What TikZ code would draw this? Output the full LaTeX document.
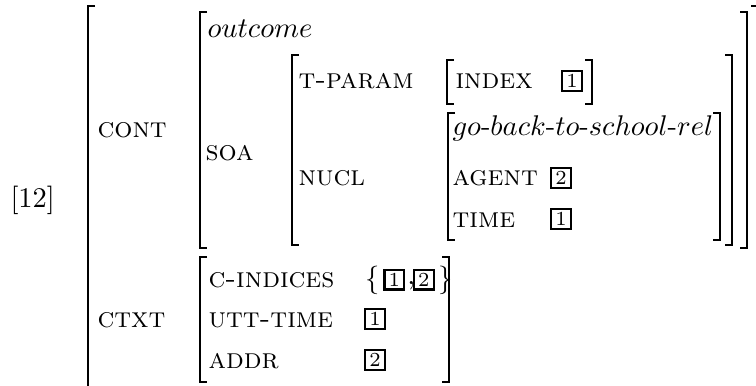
\documentclass[tikz,border=0pt]{standalone}
\usetikzlibrary{positioning}
\begin{document}
\begin{tikzpicture}[x=0.351pt,y=-0.351pt, line join=miter,
    brk/.style={line width=0.8pt},
    feat/.style={anchor=base west, inner sep=0pt, font=\scshape},
    val/.style={anchor=base west, inner sep=0pt},
    tagbox/.style={draw, line width=0.8pt, inner sep=0pt, minimum width=7pt,
        minimum height=6.8pt, font=\scriptsize}]
    \useasboundingbox (0,0) rectangle (756,385);
    \clip (0,0) rectangle (756,385);
    \def\ser{7} % serif of the brackets
    \def\lbr#1#2#3{\draw[brk] (#1+\ser,#2) -- (#1,#2) -- (#1,#3) -- (#1+\ser,#3);}
    \def\rbr#1#2#3{\draw[brk] (#1-\ser,#2) -- (#1,#2) -- (#1,#3) -- (#1-\ser,#3);}
    % outer matrix
    \node[val] (num) at (10,207) {[12]};
    \lbr{88}{6}{400} \rbr{758}{6}{400}
    \node[feat] (cont) at (97,137) {cont};
    \node[feat] (ctxt) at (97,327) {ctxt};
    % CONT value
    \lbr{200}{12}{248} \rbr{747}{12}{248}
    \node[val] (sort) at (207,37) {$outcome$};
    \node[feat] (soa) at (205,160) {soa};
    \lbr{292}{55}{245} \rbr{732}{55}{245}
    \node[feat] (tparam) at (298,88) {t-param};
    \node[feat] (nucl) at (298,185) {nucl};
    \lbr{447}{60}{104} \rbr{592}{60}{104}
    \node[feat] (index) at (455,88) {index};
    \node[tagbox] (ix1) at (572,81) {1};
    \lbr{448}{113}{240} \rbr{720}{113}{240}
    \node[val] (rel) at (452,135) {$go\mbox{-}back\mbox{-}to\mbox{-}school\mbox{-}rel$};
    \node[feat] (agent) at (452,185) {agent};
    \node[tagbox] (ag2) at (561,178) {2};
    \node[feat] (time) at (452,227) {time};
    \node[tagbox] (tm1) at (561,219) {1};
    % CTXT value
    \lbr{200}{257}{382} \rbr{449}{257}{382}
    \node[feat] (cind) at (208,287) {c-indices};
    \node[val] (lbrace) at (365,287) {$\{$};
    \node[tagbox, right=1pt of lbrace.east, anchor=west] (ci1) {1};
    \node[val, right=0.5pt of ci1.east, anchor=west, yshift=-2pt] (comma) {,};
    \node[tagbox, right=2.5pt of ci1.east, anchor=west] (ci2) {2};
    \node[inner sep=0pt, right=1pt of ci2.east, anchor=west] (rbrace) {$\}$};
    \node[feat] (utt) at (208,327) {utt-time};
    \node[tagbox] (ut1) at (375,319) {1};
    \node[feat] (addr) at (208,368) {addr};
    \node[tagbox] (ad2) at (375,360) {2};
\end{tikzpicture}
\end{document}
